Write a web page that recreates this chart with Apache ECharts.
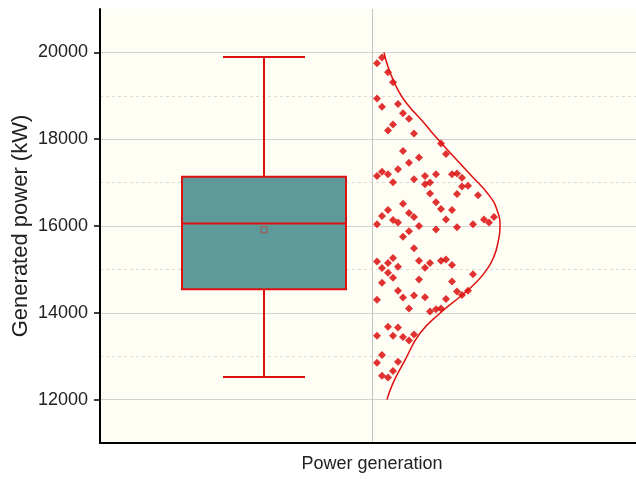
<!DOCTYPE html>
<html>
<head>
  <meta charset="utf-8">
  <title>Power generation</title>
  <script src="https://cdn.jsdelivr.net/npm/echarts@6/dist/echarts.min.js"></script>
  <style>
    html, body { margin: 0; padding: 0; background: #fff; }
    #chart { width: 636px; height: 479px; }
  </style>
</head>
<body>
<div id="chart"></div>
<script>
// category and tick labels
var categoryNames = ['Power generation'];
var majorTicks = [12000, 14000, 16000, 18000, 20000];
var minorTicks = [11000, 13000, 15000, 17000, 19000];

// whisker low, Q1, median, Q3, whisker high
var boxStats = [12520, 14540, 16055, 17135, 19895];
var meanValue = 15910;

// raw points (kW) and their horizontal jitter to the right of the category line
var pointValues = [
  19750, 19880, 19540, 19310, 18940, 18750, 18810, 18600, 18470, 18340,
  18200, 18130, 17900, 17730, 17580, 17660, 17460, 17310, 17250, 17150,
  17190, 17010, 17080, 17150, 16960, 17000, 17190, 16750, 17190, 17210,
  17110, 16910, 16930, 16740, 16710, 16510, 16550, 16390, 16370, 16370,
  16230, 16300, 16210, 16140, 16080, 16040, 16150, 16000, 15920, 15970,
  16040, 16150, 16080, 16210, 15880, 15750, 15490, 15180, 15030, 15150,
  15260, 14920, 15060, 14810, 14690, 15200, 15150, 15040, 15200, 15230,
  15100, 14770, 14720, 14890, 14490, 14410, 14510, 14510, 14350, 14400,
  14360, 14320, 14300, 14100, 14030, 14080, 14100, 13680, 13660, 13470,
  13470, 13440, 13360, 13500, 13030, 12850, 12870, 12550, 12510, 12660
];
var pointJitter = [
  5, 10, 16, 21, 5, 10, 26, 31, 37, 21,
  16, 42, 69, 31, 47, 74, 37, 26, 10, 5,
  16, 21, 42, 53, 53, 58, 64, 58, 80, 85,
  90, 90, 96, 85, 106, 31, 64, 69, 80, 16,
  10, 37, 42, 21, 26, 5, 74, 47, 64, 85,
  101, 112, 117, 122, 37, 31, 42, 5, 10, 16,
  21, 16, 26, 21, 10, 47, 58, 53, 69, 74,
  80, 47, 80, 101, 85, 90, 96, 26, 31, 42,
  53, 74, 5, 37, 58, 64, 69, 16, 26, 5,
  21, 31, 37, 42, 10, 5, 26, 10, 16, 21
];

// fitted distribution outline: value and curve width
var curveValues = [20000, 19670, 19130, 18790, 18400, 18020, 17640, 17190, 16710, 16370, 15980, 15620, 15300, 15000, 14700, 14370, 13990, 13530, 12910, 12380, 12000];
var curveWidth  = [12, 16, 26, 36, 51, 65, 80, 98, 117, 125, 128, 126, 122, 115, 104, 88, 68, 48, 33, 21, 15];

var BOX_X = -108, BOX_HALF = 82;
var RED = '#de1010';
var FONT = 'Liberation Sans, Arial, sans-serif';

var chart = echarts.init(document.getElementById('chart'));

var pointData = pointValues.map(function (v, i) { return [pointJitter[i], v]; });
var curveData = curveValues.map(function (v, i) { return [curveWidth[i], v]; });

var option = {
  animation: false,
  backgroundColor: '#ffffff',
  textStyle: { fontFamily: FONT },
  grid: {
    left: 100, right: -8, top: 9, bottom: 36,
    outerBoundsMode: 'none', containLabel: false,
    show: true, backgroundColor: '#fffef4', borderWidth: 0
  },
  xAxis: [
    {
      type: 'category',
      data: categoryNames,
      boundaryGap: true,
      axisLine: { lineStyle: { color: '#000', width: 2 } },
      axisTick: { alignWithLabel: true, length: 6, lineStyle: { color: '#000', width: 1.5 } },
      axisLabel: { fontSize: 18, color: '#222', margin: 12, fontFamily: FONT },
      splitLine: { show: false }
    },
    {
      type: 'value',
      min: -272, max: 272, interval: 272,
      axisLine: { show: false, onZero: false },
      axisTick: { show: false },
      axisLabel: { show: false },
      splitLine: { show: true, lineStyle: { color: '#c4c4c4', width: 1 } }
    }
  ],
  yAxis: [
    {
      type: 'value',
      min: 11000, max: 21000, interval: 1000,
      name: 'Generated power (kW)',
      nameLocation: 'middle',
      nameGap: 68,
      nameMoveOverlap: false,
      nameTextStyle: { fontSize: 22, color: '#222', fontFamily: FONT },
      axisLine: { show: true, onZero: false, lineStyle: { color: '#000', width: 2 } },
      axisTick: { show: true, customValues: majorTicks, length: 6, lineStyle: { color: '#000', width: 1.5 } },
      axisLabel: {
        customValues: majorTicks, fontSize: 18, color: '#222', margin: 12, fontFamily: FONT,
        formatter: function (v) { return String(v); }
      },
      splitLine: { show: true, lineStyle: { color: '#d2d2d2', width: 1 } }
    },
    {
      type: 'value',
      min: 11000, max: 21000, interval: 1000,
      axisLine: { show: false, onZero: false },
      axisTick: { show: true, customValues: minorTicks, length: 3, lineStyle: { color: '#000', width: 1.5 } },
      axisLabel: { show: false },
      splitLine: { show: true, lineStyle: { color: '#dadada', width: 1, type: [3, 3] } }
    }
  ],
  series: [
    {
      type: 'custom',
      xAxisIndex: 1, yAxisIndex: 0,
      data: [[BOX_X].concat(boxStats)],
      encode: { x: 0, y: [1, 2, 3, 4, 5] },
      renderItem: function (params, api) {
        var x = api.value(0);
        var lo = api.coord([x, api.value(1)]);
        var q1 = api.coord([x, api.value(2)]);
        var md = api.coord([x, api.value(3)]);
        var q3 = api.coord([x, api.value(4)]);
        var hi = api.coord([x, api.value(5)]);
        var half = api.size([BOX_HALF, 0])[0];
        var cap = half / 2;
        var cx = lo[0];
        var st = { stroke: RED, lineWidth: 2 };
        return {
          type: 'group',
          children: [
            { type: 'line', shape: { x1: cx, y1: hi[1], x2: cx, y2: q3[1] }, style: st },
            { type: 'line', shape: { x1: cx, y1: q1[1], x2: cx, y2: lo[1] }, style: st },
            { type: 'line', shape: { x1: cx - cap, y1: hi[1], x2: cx + cap, y2: hi[1] }, style: st },
            { type: 'line', shape: { x1: cx - cap, y1: lo[1], x2: cx + cap, y2: lo[1] }, style: st },
            { type: 'rect', shape: { x: cx - half, y: q3[1], width: half * 2, height: q1[1] - q3[1] },
              style: { fill: '#5f9a9a', stroke: RED, lineWidth: 2 } },
            { type: 'line', shape: { x1: cx - half, y1: md[1], x2: cx + half, y2: md[1] }, style: st }
          ]
        };
      }
    },
    {
      type: 'scatter',
      xAxisIndex: 1, yAxisIndex: 0,
      data: [[BOX_X, meanValue]],
      symbol: 'rect',
      symbolSize: 6,
      itemStyle: { color: 'rgba(0,0,0,0)', borderColor: '#b8403a', borderWidth: 1 }
    },
    {
      type: 'scatter',
      xAxisIndex: 1, yAxisIndex: 0,
      data: pointData,
      symbol: 'diamond',
      symbolSize: 8,
      itemStyle: { color: '#d80000' }
    },
    {
      type: 'line',
      xAxisIndex: 1, yAxisIndex: 0,
      data: curveData,
      smooth: true,
      symbol: 'none',
      lineStyle: { color: RED, width: 1.5 }
    }
  ]
};

chart.setOption(option);
</script>
</body>
</html>
